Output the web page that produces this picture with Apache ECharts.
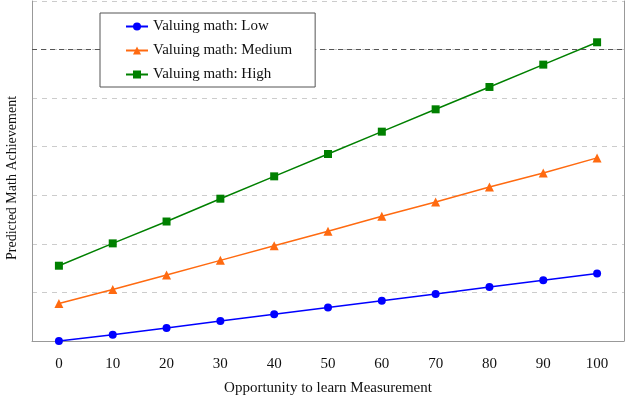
<!DOCTYPE html>
<html>
<head>
<meta charset="utf-8">
<script src="https://cdn.jsdelivr.net/npm/echarts@6/dist/echarts.min.js"></script>
<style>
  html, body { margin: 0; padding: 0; background: #fff; }
  #chart { width: 627px; height: 400px; }
</style>
</head>
<body>
<div id="chart"></div>
<script>
// x categories: opportunity to learn
var categories = ["0", "10", "20", "30", "40", "50", "60", "70", "80", "90", "100"];
// predicted achievement
var lowValues = [0, 1.3, 2.7, 4.1, 5.5, 6.9, 8.3, 9.7, 11.1, 12.5, 13.9];
var mediumValues = [7.7, 10.6, 13.6, 16.6, 19.6, 22.6, 25.7, 28.6, 31.7, 34.6, 37.7];
var highValues = [15.5, 20.1, 24.6, 29.3, 33.9, 38.5, 43.1, 47.7, 52.3, 56.9, 61.5];
var refLine = 60;

var font = "'Liberation Serif', 'Times New Roman', serif";
var chart = echarts.init(document.getElementById("chart"));

var option = {
  animation: false,
  textStyle: { fontFamily: font },
  grid: {
    left: 32,
    right: 3,
    top: 1,
    bottom: 59,
    outerBoundsMode: "none",
  },
  legend: {
    orient: "vertical",
    left: 100,
    top: 13,
    zlevel: 1,
    padding: [6, 23, 5, 25],
    itemGap: 9,
    itemWidth: 22,
    itemHeight: 10,
    borderColor: "#555",
    borderWidth: 1,
    backgroundColor: "#fff",
    textStyle: { fontFamily: font, fontSize: 15, color: "#111" },
    data: ["Valuing math: Low", "Valuing math: Medium", "Valuing math: High"],
  },
  xAxis: {
    type: "category",
    data: categories,
    boundaryGap: true,
    name: "Opportunity to learn Measurement",
    nameLocation: "middle",
    nameGap: 40,
    nameTextStyle: { fontFamily: font, fontSize: 15, color: "#111" },
    axisLine: { show: true, lineStyle: { color: "#999" } },
    axisTick: { show: false },
    axisLabel: { fontFamily: font, fontSize: 15, color: "#111", margin: 16 },
  },
  yAxis: [
    {
      type: "value",
      min: 0,
      max: 70,
      interval: 10,
      name: "Predicted Math Achievement",
      nameLocation: "middle",
      nameGap: 13,
      nameTextStyle: { fontFamily: font, fontSize: 14, color: "#111", padding: [0, 14, 0, 0] },
      axisLine: { show: true, lineStyle: { color: "#999" } },
      axisTick: { show: false },
      axisLabel: { show: false },
      splitLine: {
        show: true,
        lineStyle: { color: "#ccc", type: [5, 5], width: 1 },
      },
    },
    {
      // right frame line only
      type: "value",
      position: "right",
      min: 0,
      max: 70,
      axisLine: { show: true, lineStyle: { color: "#999" } },
      axisTick: { show: false },
      axisLabel: { show: false },
      splitLine: { show: false },
    },
  ],
  series: [
    {
      name: "Valuing math: Low",
      type: "line",
      data: lowValues,
      symbol: "circle",
      symbolSize: 8,
      color: "#0000ff",
      lineStyle: { width: 1.5 },
      z: 3,
    },
    {
      name: "Valuing math: Medium",
      type: "line",
      data: mediumValues,
      symbol: "triangle",
      symbolSize: 9,
      color: "#ff6a10",
      lineStyle: { width: 1.5 },
      z: 3,
    },
    {
      name: "Valuing math: High",
      type: "line",
      data: highValues,
      symbol: "rect",
      symbolSize: 8,
      color: "#008000",
      lineStyle: { width: 1.5 },
      z: 3,
      markLine: {
        silent: true,
        symbol: "none",
        label: { show: false },
        lineStyle: { color: "#555", type: [5, 4], width: 1 },
        data: [{ yAxis: refLine }],
      },
    },
  ],
};
chart.setOption(option);
</script>
</body>
</html>
